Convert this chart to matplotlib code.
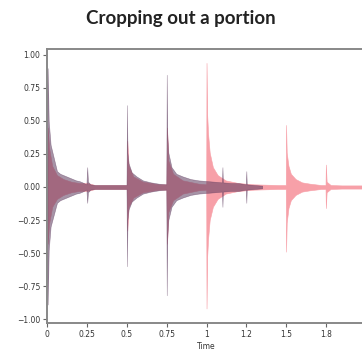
import matplotlib
matplotlib.use("Agg")
import matplotlib.pyplot as plt
import numpy as np

# ---- data (envelope keypoints) ----
full_t = [0.0, 0.002, 0.01, 0.03, 0.06, 0.10, 0.15, 0.20, 0.25, 0.30, 0.498, 0.502, 0.51, 0.54, 0.60, 0.70,
          0.748, 0.752, 0.76, 0.79, 0.85, 0.95, 0.998, 1.000, 1.004, 1.01, 1.02, 1.04, 1.07, 1.12, 1.20, 1.30,
          1.45, 1.498, 1.500, 1.504, 1.515, 1.53, 1.56, 1.60, 1.65, 1.72, 1.748, 1.750, 1.755, 1.78, 1.85, 2.0]
full_up = [0.02, 0.45, 0.30, 0.16, 0.09, 0.06, 0.04, 0.03, 0.03, 0.015, 0.015, 0.35, 0.16, 0.08, 0.04, 0.02,
           0.02, 0.45, 0.20, 0.10, 0.05, 0.025, 0.02, 0.94, 0.55, 0.40, 0.26, 0.15, 0.09, 0.05, 0.03, 0.02,
           0.015, 0.015, 0.47, 0.26, 0.16, 0.10, 0.06, 0.035, 0.025, 0.015, 0.015, 0.17, 0.04, 0.015, 0.012, 0.012]
full_lo = [-0.02, -0.43, -0.28, -0.15, -0.09, -0.06, -0.04, -0.03, -0.03, -0.015, -0.015, -0.33, -0.15, -0.08, -0.04, -0.02,
           -0.02, -0.43, -0.19, -0.10, -0.05, -0.025, -0.02, -0.92, -0.53, -0.39, -0.25, -0.15, -0.09, -0.05, -0.03, -0.02,
           -0.015, -0.015, -0.49, -0.27, -0.16, -0.10, -0.06, -0.035, -0.025, -0.015, -0.015, -0.16, -0.04, -0.015, -0.012, -0.012]

crop_t = [0.000, 0.002, 0.008, 0.02, 0.04, 0.06, 0.08, 0.10, 0.12, 0.14, 0.16, 0.18, 0.20, 0.22, 0.245, 0.250,
          0.255, 0.27, 0.30, 0.40, 0.497, 0.500, 0.503, 0.51, 0.53, 0.56, 0.60, 0.65, 0.70, 0.747, 0.750, 0.753,
          0.76, 0.78, 0.81, 0.85, 0.90, 0.95, 1.00, 1.05, 1.097, 1.100, 1.103, 1.15, 1.20, 1.247, 1.250, 1.253,
          1.30, 1.35]
crop_up = [0.02, 0.90, 0.50, 0.32, 0.22, 0.12, 0.10, 0.09, 0.08, 0.07, 0.06, 0.05, 0.045, 0.035, 0.02, 0.15,
           0.04, 0.02, 0.015, 0.015, 0.015, 0.62, 0.26, 0.18, 0.11, 0.08, 0.05, 0.035, 0.025, 0.02, 0.85, 0.40,
           0.26, 0.15, 0.10, 0.08, 0.06, 0.05, 0.045, 0.04, 0.035, 0.15, 0.035, 0.03, 0.03, 0.02, 0.12, 0.02,
           0.015, 0.01]
crop_lo = [-0.02, -0.89, -0.48, -0.30, -0.21, -0.12, -0.10, -0.09, -0.08, -0.07, -0.06, -0.05, -0.045, -0.035, -0.02, -0.12,
           -0.04, -0.02, -0.015, -0.015, -0.015, -0.60, -0.25, -0.17, -0.11, -0.08, -0.05, -0.035, -0.025, -0.02, -0.82, -0.39,
           -0.25, -0.15, -0.10, -0.08, -0.06, -0.05, -0.045, -0.04, -0.035, -0.15, -0.035, -0.03, -0.03, -0.02, -0.12, -0.02,
           -0.015, -0.01]

xtick_vals = [0, 0.25, 0.5, 0.75, 1.0, 1.25, 1.5, 1.75]
xtick_labels = ['0', '0.25', '0.5', '0.75', '1', '1.2', '1.5', '1.8']
ytick_vals = [-1.0, -0.75, -0.5, -0.25, 0.0, 0.25, 0.5, 0.75, 1.0]
ytick_labels = ['\u22121.00', '\u22120.75', '\u22120.50', '\u22120.25', '0.00', '0.25', '0.50', '0.75', '1.00']

fig = plt.figure(figsize=(3.62, 3.64), dpi=100)
ax = fig.add_axes([0.131, 0.1126, 0.879, 0.7528])

ax.fill_between(full_t, full_lo, full_up, color='#f7a0a8', linewidth=0.4, edgecolor='#f7a0a8')
ax.fill_between(crop_t, crop_lo, crop_up, color='#5d3a5e', alpha=0.55, linewidth=0.4, edgecolor='#5d3a5e')

ax.set_xlim(0, 2.0)
ax.set_ylim(-1.03, 1.045)
ax.set_xticks(xtick_vals)
ax.set_xticklabels(xtick_labels)
ax.set_yticks(ytick_vals)
ax.set_yticklabels(ytick_labels)
ax.tick_params(labelsize=5.5, length=3, width=0.8, color='#666666', labelcolor='#333333', pad=2)
for s in ax.spines.values():
    s.set_color('#888888')
    s.set_linewidth(1.4)
ax.set_xlabel('Time', fontsize=5.5, color='#333333', labelpad=2)
fig.text(0.5, 0.95, 'Cropping out a portion', ha='center', va='center',
         fontsize=13.5, fontweight='bold', family=['Lato', 'DejaVu Sans'], color='#222222')

fig.savefig('out.png', dpi=100)
